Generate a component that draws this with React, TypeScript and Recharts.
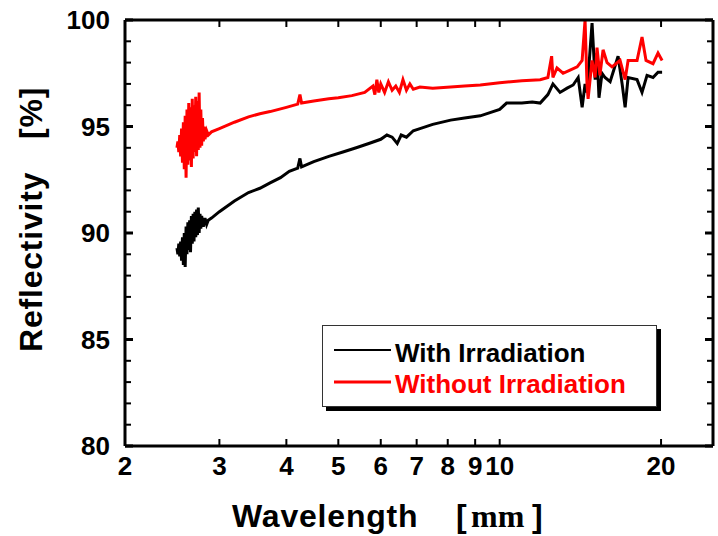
import { LineChart, Line, XAxis, YAxis } from "recharts";

// ── Data ──────────────────────────────────────────────────────────────────
// wavelength [µm] / reflectivity [%]
const withWl = [
  2.5, 2.51, 2.52, 2.53, 2.54, 2.55, 2.56, 2.57, 2.58, 2.59, 2.6, 2.61, 2.62, 2.63, 2.64, 2.65,
  2.66, 2.67, 2.68, 2.69, 2.7, 2.71, 2.72, 2.73, 2.74, 2.75, 2.76, 2.77, 2.78, 2.8, 2.82, 2.84,
  2.86, 2.9, 3.0, 3.2, 3.4, 3.57, 3.73, 3.9, 4.05, 4.2, 4.24, 4.27, 4.5, 4.8, 5.1, 5.4, 5.7, 6.0,
  6.16, 6.3, 6.44, 6.55, 6.7, 6.9, 7.1, 7.5, 8.1, 8.6, 9.2, 10.0, 10.3, 11.0, 11.5, 11.9, 12.3,
  12.41, 12.57, 12.96, 13.36, 13.71, 14.01, 14.25, 14.43, 14.55, 14.87, 15.07, 15.19, 15.32,
  15.52, 15.72, 16.07, 16.63, 16.92, 17.14, 17.36, 18.04, 18.43, 18.83, 19.32, 19.74, 20.09,
];
const withR = [
  89.3, 89.0, 89.5, 88.9, 89.6, 88.7, 89.8, 88.5, 90.0, 88.4, 90.3, 89.0, 90.5, 89.2, 90.6, 89.1,
  90.8, 89.5, 90.9, 89.6, 91.0, 89.8, 91.1, 89.9, 91.2, 90.0, 90.9, 90.2, 90.8, 90.3, 90.7, 90.4,
  90.6, 90.7, 91.0, 91.5, 91.9, 92.1, 92.35, 92.6, 92.9, 93.05, 93.5, 93.1, 93.35, 93.6, 93.8, 94.0, 94.2, 94.4,
  94.6, 94.5, 94.2, 94.6, 94.5, 94.8, 94.9, 95.1, 95.3, 95.4, 95.5, 95.8, 96.1, 96.1, 96.15, 96.1, 96.5,
  96.7, 97.0, 96.6, 96.8, 96.95, 97.3, 95.9, 97.0, 96.6, 99.85, 97.2, 98.45, 96.35,
  97.5, 97.3, 97.1, 98.3, 97.0, 95.9, 97.3, 97.2, 96.6, 97.4, 97.3, 97.55, 97.55,
];

const withoutWl = [
  2.5, 2.51, 2.52, 2.53, 2.54, 2.55, 2.56, 2.57, 2.58, 2.59, 2.6, 2.61, 2.62, 2.63, 2.64, 2.65,
  2.66, 2.67, 2.68, 2.69, 2.7, 2.71, 2.72, 2.73, 2.74, 2.75, 2.76, 2.77, 2.78, 2.79, 2.8, 2.81,
  2.82, 2.84, 2.86, 2.9, 3.0, 3.2, 3.4, 3.57, 3.73, 4.0, 4.2, 4.24, 4.27, 4.5, 4.8, 5.0, 5.3, 5.6,
  5.8, 5.85, 5.9, 5.95, 6.0, 6.1, 6.2, 6.3, 6.4, 6.5, 6.6, 6.7, 6.8, 6.9, 7.1, 7.5, 8.1, 8.6, 9.2,
  10.0, 11.0, 11.9, 12.3, 12.5, 12.57, 12.79, 13.13, 13.53, 13.95, 14.25, 14.43, 14.55, 14.62,
  14.87, 15.07, 15.19, 15.38, 15.59, 15.86, 16.2, 16.77, 17.14, 17.36, 18.04, 18.43, 18.75,
  19.32, 19.74, 20.09,
];
const withoutR = [
  94.0, 94.3, 93.8, 94.6, 93.6, 94.9, 93.3, 95.2, 93.0, 95.5, 92.6, 95.8, 93.2, 96.1, 93.4, 95.9,
  93.1, 96.3, 93.5, 96.0, 93.8, 96.4, 93.6, 96.2, 93.9, 96.6, 94.0, 95.8, 94.1, 95.4, 94.3, 95.0,
  94.4, 94.8, 94.6, 94.75, 94.9, 95.2, 95.45, 95.6, 95.7, 95.9, 96.05, 96.5, 96.1, 96.2, 96.3, 96.35, 96.45, 96.6,
  96.9, 96.5, 97.2, 96.6, 97.0, 96.6, 97.1, 96.7, 96.9, 96.6, 97.2, 96.7, 97.0, 96.75, 96.85, 96.8, 96.85, 96.9, 96.95,
  97.05, 97.15, 97.2, 97.3, 98.3, 97.3, 97.75, 97.5, 97.65, 97.8, 98.1, 100.0, 97.0, 96.3,
  98.1, 97.3, 98.7, 97.4, 98.6, 98.0, 97.8, 98.1, 97.2, 98.1, 98.1, 99.2, 98.1,
  97.95, 98.45, 98.1,
];

const xTicks = [2, 3, 4, 5, 6, 7, 8, 9, 10, 20];
const yTicks = [80, 81, 82, 83, 84, 85, 86, 87, 88, 89, 90, 91, 92, 93, 94, 95, 96, 97, 98, 99, 100];

const withData = withWl.map((wl, i) => ({ wl, r: withR[i] }));
const withoutData = withoutWl.map((wl, i) => ({ wl, r: withoutR[i] }));

const FONT = "Arial, 'Liberation Sans', Helvetica, sans-serif";

// ── Tick renderers (ticks point inward, like the original plot) ───────────

const BottomTick = (props: any) => {
  const { x, y, payload } = props;
  return (
    <g>
      <line x1={x} x2={x} y1={y} y2={y - 7} stroke="#000" strokeWidth={2} />
      <text x={x} y={y + 29} textAnchor="middle" fontFamily={FONT} fontWeight="bold" fontSize={26} fill="#000">
        {payload.value}
      </text>
    </g>
  );
};

const TopTick = (props: any) => {
  const { x, y } = props;
  return <line x1={x} x2={x} y1={y} y2={y + 7} stroke="#000" strokeWidth={2} />;
};

const LeftTick = (props: any) => {
  const { x, y, payload } = props;
  const major = payload.value % 5 === 0;
  return (
    <g>
      <line x1={x} x2={x + (major ? 8 : 6)} y1={y} y2={y} stroke="#000" strokeWidth={major ? 3 : 2} />
      {major && (
        <text x={110} y={y + 9} textAnchor="end" fontFamily={FONT} fontWeight="bold" fontSize={26} fill="#000">
          {payload.value}
        </text>
      )}
    </g>
  );
};

const RightTick = (props: any) => {
  const { x, y, payload } = props;
  const major = payload.value % 5 === 0;
  return <line x1={x} x2={x - (major ? 8 : 6)} y1={y} y2={y} stroke="#000" strokeWidth={major ? 3 : 2} />;
};

const XTitle = () => (
  <text x={232} y={527} fontFamily={FONT} fontWeight="bold" fontSize={32} letterSpacing={0.8} fill="#000">
    Wavelength
    <tspan x={456}>[</tspan>
    <tspan x={471} fontFamily="'Liberation Serif', 'DejaVu Serif', serif" letterSpacing={0}>mm</tspan>
    <tspan x={532}>]</tspan>
  </text>
);

const YTitle = () => (
  <text transform="translate(42,352) rotate(-90)" x={0} y={0}
    fontFamily={FONT} fontWeight="bold" fontSize={32} letterSpacing={0.8} fill="#000">
    Reflectivity
    <tspan x={213}>[%]</tspan>
  </text>
);

const axisLine = { stroke: "#000", strokeWidth: 3 };

export default function App() {
  return (
    <div style={{ position: "absolute", left: 0, top: 0, width: 718, height: 536, background: "#fff" }}>
      <LineChart width={718} height={536} margin={{ top: 0, right: 0, bottom: 0, left: 0 }}>
        <XAxis xAxisId="b" dataKey="wl" type="number" scale="log" domain={[2, 25]} allowDataOverflow
          ticks={xTicks} interval={0} orientation="bottom" height={90}
          axisLine={axisLine} tickLine={false} tickSize={0} tickMargin={0}
          tick={<BottomTick />} label={<XTitle />} />
        <XAxis xAxisId="t" dataKey="wl" type="number" scale="log" domain={[2, 25]} allowDataOverflow
          ticks={xTicks} interval={0} orientation="top" height={20}
          axisLine={axisLine} tickLine={false} tickSize={0} tickMargin={0}
          tick={<TopTick />} />
        <YAxis yAxisId="l" type="number" domain={[80, 100]} allowDataOverflow ticks={yTicks} interval={0}
          orientation="left" width={125} axisLine={axisLine} tickLine={false} tickSize={0} tickMargin={0}
          tick={<LeftTick />} label={<YTitle />} />
        <YAxis yAxisId="r" type="number" domain={[80, 100]} allowDataOverflow ticks={yTicks} interval={0}
          orientation="right" width={5} axisLine={axisLine} tickLine={false} tickSize={0} tickMargin={0}
          tick={<RightTick />} />

        <Line xAxisId="b" yAxisId="l" data={withData} dataKey="r" type="linear" stroke="#000"
          strokeWidth={3} dot={false} activeDot={false} isAnimationActive={false} />
        <Line xAxisId="b" yAxisId="l" data={withoutData} dataKey="r" type="linear" stroke="#ff0000"
          strokeWidth={3} dot={false} activeDot={false} isAnimationActive={false} />
      </LineChart>

      {/* legend box */}
      <div style={{
        position: "absolute", left: 322, top: 325, width: 333, height: 80,
        border: "1.5px solid #333", background: "#fff", boxShadow: "4px 4px 0 #000",
      }}>
        <svg width={333} height={80} style={{ display: "block" }}>
          <line x1={11} x2={68} y1={24} y2={24} stroke="#000" strokeWidth={2} />
          <text x={72} y={36} fontFamily={FONT} fontWeight="bold" fontSize={26} fill="#000">With Irradiation</text>
          <line x1={11} x2={68} y1={56} y2={56} stroke="#ff0000" strokeWidth={3} />
          <text x={72} y={67} fontFamily={FONT} fontWeight="bold" fontSize={26} fill="#ff0000">Without Irradiation</text>
        </svg>
      </div>
    </div>
  );
}
